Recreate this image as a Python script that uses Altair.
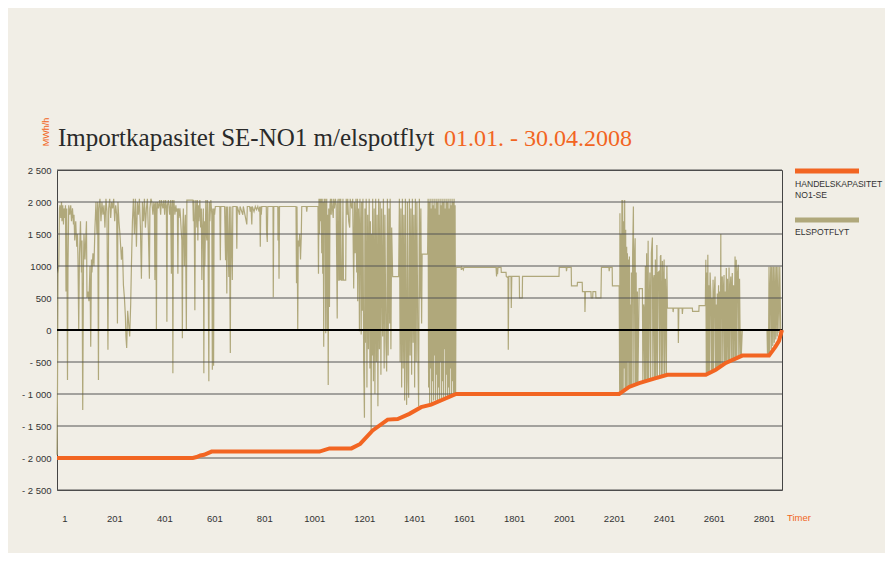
import altair as alt
import pandas as pd

# ---------------- data ----------------
X_TICKS = [1, 201, 401, 601, 801, 1001, 1201, 1401, 1601, 1801, 2001, 2201, 2401, 2601, 2801]
Y_TICKS = [2500, 2000, 1500, 1000, 500, 0, -500, -1000, -1500, -2000, -2500]
Y_LABELS = ["2 500", "2 000", "1 500", "1000", "500", "0", "- 500", "- 1 000", "- 1 500", "- 2 000", "- 2 500"]

# HANDELSKAPASITET NO1-SE (hour, MWh/h)
CAPACITY = [(1, -2000), (545, -2000), (560, -1985), (575, -1960), (590, -1950), (620, -1900),
            (1052, -1900), (1092, -1850), (1180, -1850), (1215, -1780), (1265, -1570),
            (1325, -1400), (1365, -1390), (1412, -1310), (1459, -1206), (1499, -1165),
            (1599, -1000), (2252, -1000), (2292, -890), (2332, -830), (2392, -760),
            (2445, -700), (2599, -700), (2639, -620), (2679, -515), (2745, -400),
            (2852, -400), (2878, -260), (2892, -170), (2904, 0)]

# ELSPOTFLYT (hour, MWh/h), read segment by segment
FLOW_JAN = [(1, -1950), (3, -880), (5, 880), (8, 1000), (11, 1900), (13, 1950), (16, 1750), (19, 2000),
            (21, 1700), (24, 1950), (27, 1650), (29, 1900), (32, 1750), (35, 1950), (37, 600), (40, 1900),
            (43, -780), (45, 1000), (48, 1950), (52, 1800), (56, 1950), (59, 1700), (63, 1900), (67, 1650),
            (69, 1800), (72, 1400), (76, 1700), (80, 1300), (83, 1500), (85, 1100), (88, 0), (91, 1200),
            (95, 1700), (99, 900), (101, 1400), (104, -1250), (107, 1000), (109, 1500), (113, 1100),
            (116, 1400), (119, 1700), (121, 500), (125, 600), (129, 450), (133, 1000), (136, -260),
            (139, 1100), (141, 900), (145, 1200), (149, 1000), (153, 1600), (157, 2000), (161, 1500),
            (164, 2000), (167, -780), (169, 1900), (173, 2050), (177, 1700), (181, 2000), (185, 1800),
            (189, 1950), (193, 1600), (197, 2050), (201, 1850), (205, -310), (208, 1900), (212, 2050),
            (216, 1750), (220, 2000), (224, 1900), (228, 2050), (232, 1700), (236, 1950), (240, 1800),
            (243, 100), (245, 2000), (249, 1700), (253, 1500), (259, 1100), (263, 1300), (267, 700),
            (271, 500), (275, 200), (277, -100), (280, -280), (284, 300), (288, 100), (292, -100),
            (296, 400), (299, 1000), (303, 1700), (307, 2050), (311, 1500), (315, 2050), (319, 1300),
            (323, 2000), (327, 1800), (331, 2050), (335, 1600), (339, 800), (343, 2000), (347, 1700),
            (351, 2050), (355, 1600), (359, 1900), (363, 2050), (367, 1500), (371, 800), (373, 1900),
            (377, 2050), (381, 2000), (385, 1800), (389, 2000)]

FLOW_FEB = [(391, 1950), (393, 780), (395, 1950), (397, 2000), (399, 0), (401, 1800), (403, 2000),
            (407, 1900), (412, 2030), (416, 1800), (419, 2030), (425, 1900), (429, 2030), (432, 1800),
            (436, 2030), (439, 1900), (441, 130), (443, 1950), (447, 2030), (452, 1800), (456, 2030),
            (459, 880), (461, 1900), (463, 2030), (465, -675), (467, 1900), (469, 2030), (473, 1800),
            (477, 1950), (479, 1850), (483, 1900), (485, 880), (487, 1900), (489, 1750), (493, 1900),
            (495, 1800), (499, 1500), (501, 1400), (503, -130), (505, 1600), (507, 1900), (511, 1000),
            (513, 1600), (515, 1800), (519, 0), (521, 2030), (545, 2030), (547, 1700), (549, 2030),
            (551, 1500), (553, 310), (555, 1800), (557, 2030), (561, 1600), (563, 2030), (565, 1400),
            (567, 1950), (569, 1700), (573, 2030), (576, 1600), (579, 1900), (581, 780), (583, 1500),
            (587, 1900), (589, -675), (591, 1700), (593, 1000), (597, 2030), (599, 1500), (601, 1400),
            (603, 2030), (605, 1800), (609, -800), (611, 2000), (613, 1700), (617, 2030), (621, 1800),
            (623, -620), (625, 1900), (628, -560), (630, 1900), (632, 1800), (635, 1930), (645, 1930),
            (653, 1930), (655, 1090), (657, 1930), (672, 1930), (676, 1090), (678, 1930), (681, 570),
            (683, 1930), (689, 830), (691, 1930), (695, -360), (697, 1930), (703, 780), (705, 1930),
            (719, 1930), (721, 1270), (723, 1930), (732, 1800), (734, 1930), (745, 1800), (747, 1930),
            (761, 1650), (763, 1930), (772, 1930)]

FLOW_MAR = [(775, 1850), (778, 1930), (781, 1650), (783, 1930), (790, 1850), (795, 1930), (800, 1880),
            (805, 1930), (810, 1850), (813, 1930), (815, 1300), (817, 1930), (819, 1800), (821, 1930),
            (839, 1930), (840, 1550), (843, 1375), (845, 1930), (866, 1930), (867, 510), (869, 1930),
            (885, 1930), (886, 1400), (888, 1930), (890, 800), (892, 1930), (958, 1930), (960, 730),
            (962, 1930), (965, 0), (967, 1400), (969, 1300), (973, 1500), (976, 1100), (979, 1450),
            (981, 1930), (999, 1930), (1001, 1850), (1003, 1930), (1046, 1930), (1048, 880), (1050, 2050),
            (1052, 1500), (1054, 2050), (1056, 1700), (1059, 2050), (1061, 1200), (1063, 2050), (1065, 880),
            (1067, 2000), (1069, -260), (1071, 2050), (1073, 1600), (1075, 2050), (1077, -50), (1079, 1900),
            (1081, 2050), (1083, 0), (1085, 1800), (1087, -860), (1089, 1900), (1092, 360), (1094, 1950),
            (1096, 2050), (1099, 1800), (1101, 2050), (1104, 1900), (1107, 1750), (1109, 2050), (1112, 1900),
            (1116, 2050), (1119, 1950), (1123, 180), (1125, 2000), (1127, 2050), (1129, 780), (1131, 780),
            (1133, 2050), (1135, 780), (1137, 2050), (1139, 780), (1143, 780), (1146, 2050), (1148, 780),
            (1157, 780), (1159, 2050), (1163, 1800), (1165, 2050), (1169, 1700), (1173, 1600), (1175, 2050),
            (1181, 1900), (1185, 2050), (1189, 650)]

FLOW_DENSE1 = [(1192, 2000), (1195, 1200), (1198, 2050), (1201, 900), (1204, 2050), (1205, 450), (1208, 1900),
               (1210, 1500), (1212, -20), (1214, 2050), (1217, 1400), (1219, -70), (1221, 2000), (1224, 300),
               (1226, 2050), (1229, -500), (1232, -1370), (1234, 1900), (1236, -200), (1239, 2050), (1242, -900),
               (1245, 1800), (1248, -300), (1251, 2050), (1254, -600), (1256, 1700), (1259, -1570), (1261, 1500),
               (1263, -400), (1265, 2050), (1268, -800), (1271, 1900), (1274, -1000), (1277, 2050), (1280, -500),
               (1283, 1800), (1286, -1190), (1289, 2050), (1292, -300), (1295, 2000), (1298, -700), (1301, 1900),
               (1305, -100), (1308, 2050), (1311, -600), (1314, 1800), (1318, -200), (1321, -650), (1324, 2050),
               (1327, -400), (1330, 1900), (1333, 100), (1335, 2050), (1338, -300), (1341, 1600), (1345, 835),
               (1369, 835), (1372, 2050), (1375, -500), (1378, 1900), (1381, -900), (1384, 2050), (1387, -600),
               (1390, 1800), (1393, -1100), (1396, 2050), (1399, -300), (1401, -1170), (1404, 2000), (1407, -800),
               (1409, -1060), (1412, 2050), (1415, -400), (1418, 1900), (1421, -700), (1424, 2050), (1427, -200),
               (1430, 1800), (1433, -900), (1436, 2050), (1439, -500), (1442, 2000), (1446, -300), (1449, -1190),
               (1452, 2050), (1455, 500), (1458, 1900), (1461, 100), (1463, 1185), (1485, 1185), (1487, 2050),
               (1489, -900), (1491, 2000), (1493, -1150), (1495, 2050), (1497, -600), (1499, 1900), (1501, -1150),
               (1503, 2050), (1505, -800), (1507, 1950), (1509, -1100), (1511, 2050), (1513, -400), (1515, 1900),
               (1517, -1100), (1519, 2050), (1521, -700), (1523, 2000), (1525, -1100), (1527, 2050), (1529, -900),
               (1531, 1800), (1533, -1080), (1535, 2050), (1537, -500), (1539, 1950), (1541, -1070), (1543, 2050),
               (1545, -800), (1547, 2000), (1549, -1060), (1551, 2050), (1553, -300), (1555, 1900), (1557, -1050),
               (1559, 2050), (1561, -700), (1563, 2000), (1565, -1040), (1567, 2050), (1569, -900), (1571, 1900),
               (1573, -1030), (1575, 2050), (1577, -600), (1579, 1950), (1581, -1020), (1583, 2050), (1585, -800),
               (1587, 2000), (1589, -1010), (1591, 2050), (1593, -1000), (1595, 1950), (1597, -1000), (1599, 980)]

FLOW_CALM = [(1619, 980), (1620, 940), (1622, 980), (1628, 940), (1630, 980), (1759, 980), (1761, 837),
             (1763, 980), (1765, 870), (1767, 980), (1779, 980), (1780, 900), (1799, 900), (1800, 837),
             (1805, 820), (1807, 837), (1808, -307), (1810, 837), (1819, 837), (1820, 343), (1822, 837),
             (1852, 837), (1853, 500), (1864, 500), (1865, 837), (2011, 837), (2012, 978), (2040, 978),
             (2041, 920), (2043, 978), (2060, 978), (2061, 690), (2084, 690), (2085, 745), (2104, 745),
             (2105, 600), (2114, 600), (2115, 280), (2117, 600), (2139, 600), (2140, 500), (2146, 500),
             (2147, 600), (2158, 600), (2159, 500), (2179, 500), (2181, 978), (2211, 978), (2212, 920),
             (2214, 978), (2224, 978), (2225, 690), (2251, 690)]

FLOW_DENSE2 = [(2252, 690), (2254, -960), (2255, 1825), (2257, -950), (2259, 1500), (2261, -940), (2263, 2030),
               (2265, -930), (2266, 2033), (2268, -920), (2270, 1700), (2272, -600), (2274, 2030), (2276, -910),
               (2278, 1565), (2280, -900), (2282, 1300), (2284, -890), (2285, 1200), (2287, -500), (2289, 1100),
               (2291, -890), (2293, 1150), (2295, -880), (2297, 400), (2299, -880), (2301, 900), (2303, -870),
               (2306, 1200), (2309, 1930), (2311, -860), (2313, 1100), (2316, 1435), (2318, -850), (2320, 900),
               (2322, -840), (2325, 600), (2327, -830), (2332, 645), (2345, 645), (2347, -820), (2350, 400),
               (2352, 320), (2354, -810), (2357, 1000), (2359, -800), (2362, 1200), (2365, -790), (2368, 1394),
               (2370, -780), (2372, 340), (2375, 900), (2378, -770), (2381, 1200), (2385, 1445), (2387, -760),
               (2390, 800), (2392, 860), (2394, -755), (2397, 1100), (2399, -740), (2403, 1330), (2405, -730),
               (2408, 900), (2412, 915), (2414, -720), (2417, 1150), (2419, 1170), (2421, -710), (2425, 1080),
               (2427, -705), (2430, 900), (2432, 1100), (2434, -700), (2437, 800), (2439, 343), (2441, -690),
               (2443, 1000), (2445, 343)]

FLOW_APR = [(2467, 343), (2468, 280), (2470, 343), (2488, 343), (2489, -203), (2491, 343), (2504, 343),
            (2505, 250), (2507, 343), (2545, 343), (2546, 290), (2571, 290), (2572, 380), (2597, 380),
            (2599, 1097), (2601, -680), (2603, 900), (2605, -680), (2607, 1175), (2609, -670), (2611, 700),
            (2613, -660), (2616, 900), (2619, 570), (2621, -650), (2624, 500), (2626, -640), (2628, 785),
            (2630, -630), (2633, 600), (2636, 835), (2638, -620), (2641, 400), (2643, -600), (2645, 570),
            (2647, -590), (2650, 700), (2652, -580), (2655, 600), (2657, -570), (2659, 1500), (2660, -560),
            (2662, 800), (2665, 835), (2667, -550), (2670, 700), (2672, 860), (2674, -540), (2677, 600),
            (2679, -520), (2681, 967), (2683, -510), (2686, 800), (2689, -500), (2692, 978), (2694, -490),
            (2697, 700), (2699, 835), (2701, -480), (2703, 600), (2705, 890), (2707, -470), (2710, 700),
            (2712, -460), (2716, 1150), (2718, -450), (2721, 1097), (2723, -440), (2726, 900), (2729, 1020),
            (2731, -420), (2734, 800), (2737, -410), (2739, 0), (2741, -400), (2745, 0), (2844, 0),
            (2846, -400), (2848, 0), (2850, -380), (2852, 990), (2854, -350), (2856, 550), (2859, 990),
            (2861, -300), (2864, 990), (2867, -250), (2870, 990), (2873, -200), (2876, 990), (2879, -150),
            (2882, 990), (2885, -100), (2888, 990), (2892, -50), (2895, 990), (2899, -20)]

TITLE_MAIN = "Importkapasitet SE-NO1 m/elspotflyt"
TITLE_PERIOD = "01.01. - 30.04.2008"
UNIT = "MWh/h"
X_UNIT = "Timer"
LEGEND_CAP = ["HANDELSKAPASITET", "NO1-SE"]
LEGEND_FLOW = "ELSPOTFLYT"

# ---------------- styling ----------------
ORANGE = "#f26522"
OLIVE = "#b0a87b"
BG = "#f1eee6"
TXT = "#333333"
SANS = "Liberation Sans"
SERIF = "Liberation Serif"

flow_df = pd.DataFrame(FLOW_JAN + FLOW_FEB + FLOW_MAR + FLOW_DENSE1 + FLOW_CALM + FLOW_DENSE2 + FLOW_APR,
                       columns=["hour", "mwh"])
cap_df = pd.DataFrame(CAPACITY, columns=["hour", "mwh"])
grid_df = pd.DataFrame({"mwh": [v for v in Y_TICKS if v != 0]})
zero_df = pd.DataFrame({"mwh": [0]})

label_expr = "".join(f"datum.value == {v} ? '{l}' : " for v, l in zip(Y_TICKS, Y_LABELS)) + "''"

x_scale = alt.Scale(domain=[1, 2904], nice=False, zero=False)
y_scale = alt.Scale(domain=[-2500, 2500], nice=False)

x_axis = alt.Axis(values=X_TICKS, format="d", grid=False, ticks=False, domain=False, title=None,
                  labelOffset=7.5, labelPadding=23, labelFont=SANS, labelFontSize=9.5,
                  labelColor=TXT, labelFlush=False, labelOverlap=False)
y_axis = alt.Axis(values=Y_TICKS, grid=False, ticks=False, domain=False, title=None,
                  labelExpr=label_expr, labelPadding=6, labelFont=SANS, labelFontSize=9.5,
                  labelColor=TXT, labelOverlap=False, labelFlush=False)

X = alt.X("hour:Q", scale=x_scale, axis=x_axis)
Y = alt.Y("mwh:Q", scale=y_scale, axis=y_axis)

flow_line = alt.Chart(flow_df).mark_line(color=OLIVE, strokeWidth=1.2).encode(x=X, y=Y, order="hour:Q")
grid = alt.Chart(grid_df).mark_rule(color="#555555", strokeWidth=1).encode(y=Y)
zero = alt.Chart(zero_df).mark_rule(color="#000000", strokeWidth=2).encode(y=Y)
cap_line = alt.Chart(cap_df).mark_line(color=ORANGE, strokeWidth=4).encode(x=X, y=Y, order="hour:Q")


def text_layer(txt, x, y, color, size, font=SANS, align="left", angle=0, baseline="middle"):
    return alt.Chart(pd.DataFrame({"t": [txt]})).mark_text(
        align=align, baseline=baseline, color=color, fontSize=size, font=font, angle=angle
    ).encode(x=alt.value(x), y=alt.value(y), text="t:N")


title1 = text_layer(TITLE_MAIN, 1, -24, "#2a2a2a", 25, font=SERIF, baseline="alphabetic")
title2 = text_layer(TITLE_PERIOD, 387, -24, ORANGE, 24, font=SERIF, baseline="alphabetic")
unit = text_layer(UNIT, -11, -38, ORANGE, 9, align="center", angle=270)
timer = text_layer(X_UNIT, 730, 348, ORANGE, 9.5)
leg1 = text_layer(LEGEND_CAP[0], 738, 13.5, TXT, 8.6)
leg2 = text_layer(LEGEND_CAP[1], 738, 24.5, TXT, 8.6)
leg3 = text_layer(LEGEND_FLOW, 738, 61.5, TXT, 8.6)

swatch_df = pd.DataFrame({"k": [0]})
sw_cap = alt.Chart(swatch_df).mark_rule(color=ORANGE, strokeWidth=5).encode(
    x=alt.value(738), x2=alt.value(802), y=alt.value(1))
sw_flow = alt.Chart(swatch_df).mark_rule(color=OLIVE, strokeWidth=5).encode(
    x=alt.value(738), x2=alt.value(802), y=alt.value(50))

chart = alt.layer(
    flow_line, grid, zero, cap_line,
    title1, title2, unit, timer, leg1, leg2, leg3, sw_cap, sw_flow
).properties(
    width=725, height=320,
    padding={"left": 49, "top": 162, "right": 103, "bottom": 63},
    autosize=alt.AutoSizeParams(type="none"),
    background=BG,
).configure_view(stroke="#444444", strokeWidth=1)

chart.save("out.html", embed_options={"renderer": "svg", "actions": False})
